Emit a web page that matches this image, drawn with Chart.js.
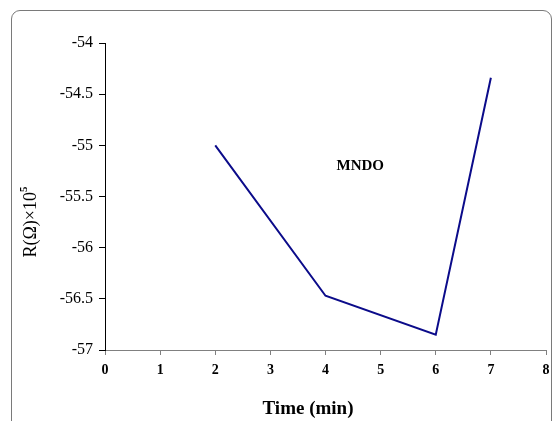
<!DOCTYPE html>
<html>
<head>
<meta charset="utf-8">
<script src="https://cdn.jsdelivr.net/npm/chart.js@4/dist/chart.umd.min.js"></script>
<style>
    html, body { margin: 0; padding: 0; background: #fff; }
    #wrap { position: relative; width: 557px; height: 421px; overflow: hidden; }
    #frame {
        position: absolute; left: 11px; top: 10px; width: 541px; height: 430px;
        border: 1px solid #7a7a7a; border-radius: 9px; box-sizing: border-box;
    }
    canvas { position: absolute; left: 0; top: 0; }
</style>
</head>
<body>
<div id="wrap">
    <div id="frame"></div>
    <canvas id="chart" width="557" height="421"></canvas>
</div>
<script>
// Data
const times = [2, 4, 6, 7];
const resistance = [-55.0, -56.47, -56.85, -54.34];
const seriesLabel = 'MNDO';
const xTitle = 'Time (min)';

const serif = '"Liberation Serif", "Times New Roman", serif';

// Titles and the in-plot label, placed by hand
const textPlugin = {
    id: 'texts',
    afterDraw(chart) {
        const ctx = chart.ctx;
        ctx.save();
        ctx.fillStyle = '#000';
        ctx.textAlign = 'center';
        ctx.textBaseline = 'middle';

        ctx.font = 'bold 15px ' + serif;
        ctx.fillText(seriesLabel, chart.scales.x.getPixelForValue(4.63), chart.scales.y.getPixelForValue(-55.2));

        ctx.font = 'bold 19px ' + serif;
        ctx.fillText(xTitle, 308, 409);

        // y title: R(Ω)×10^5, rotated
        ctx.translate(30, 222);
        ctx.rotate(-Math.PI / 2);
        ctx.font = '18px ' + serif;
        const main = 'R(Ω)×10';
        const w = ctx.measureText(main).width;
        ctx.font = 'bold 11px ' + serif;
        const sw = ctx.measureText('5').width;
        const start = -(w + sw) / 2;
        ctx.textAlign = 'left';
        ctx.font = '18px ' + serif;
        ctx.fillText(main, start, 1);
        ctx.font = 'bold 11px ' + serif;
        ctx.fillText('5', start + w, -6);
        ctx.restore();
    }
};

new Chart(document.getElementById('chart'), {
    type: 'line',
    data: {
        datasets: [{
            label: seriesLabel,
            data: times.map((t, i) => ({ x: t, y: resistance[i] })),
            borderColor: '#0b0b8a',
            borderWidth: 2,
            pointRadius: 0,
            tension: 0,
            fill: false
        }]
    },
    options: {
        responsive: false,
        animation: false,
        layout: { padding: { left: 0, top: 43, right: 11, bottom: 0 } },
        plugins: {
            legend: { display: false },
            tooltip: { enabled: false }
        },
        scales: {
            x: {
                type: 'linear',
                min: 0,
                max: 8,
                ticks: {
                    stepSize: 1,
                    color: '#000',
                    padding: 7,
                    font: { family: serif, size: 14, weight: 'bold' }
                },
                grid: {
                    drawOnChartArea: false,
                    drawTicks: true,
                    tickLength: 5,
                    color: '#808080'
                },
                border: { color: '#808080', width: 1 },
                afterFit(scale) { scale.height = 71; }
            },
            y: {
                min: -57,
                max: -54,
                ticks: {
                    stepSize: 0.5,
                    color: '#000',
                    padding: 6,
                    font: { family: serif, size: 16 },
                    callback: v => String(v)
                },
                grid: {
                    drawOnChartArea: false,
                    drawTicks: true,
                    tickLength: 6,
                    color: '#000'
                },
                border: { color: '#000', width: 1 },
                afterFit(scale) { scale.width = 105; }
            }
        }
    },
    plugins: [textPlugin]
});
</script>
</body>
</html>
